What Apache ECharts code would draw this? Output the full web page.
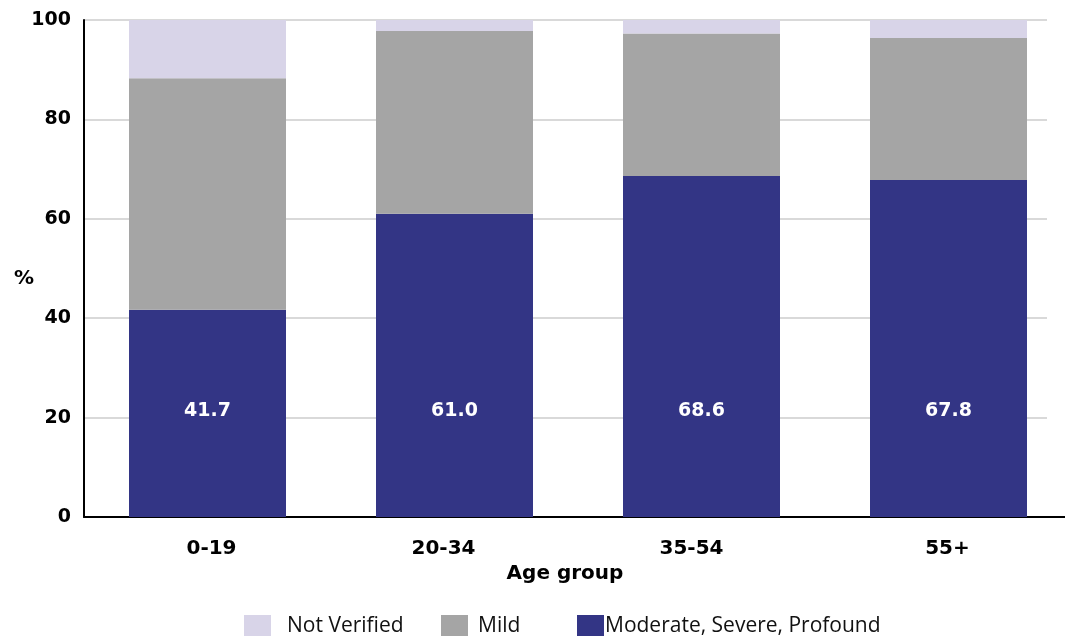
<!DOCTYPE html>
<html>
<head>
<meta charset="utf-8">
<script src="https://cdn.jsdelivr.net/npm/echarts@6/dist/echarts.min.js"></script>
<style>
  html, body { margin: 0; padding: 0; background: #fff; }
  #chart { width: 1065px; height: 636px; }
</style>
</head>
<body>
<div id="chart"></div>
<script>
// Age groups along the x axis
const categories = ['0-19', '20-34', '35-54', '55+'];
// Stacked shares (%) per age group
const severe = [41.7, 61.0, 68.6, 67.8];
const mild = [46.6, 36.8, 28.7, 28.6];
const notVerified = [11.7, 2.2, 2.7, 3.6];
const yTicks = [0, 20, 40, 60, 80, 100];

const BOLD = '"DejaVu Sans", sans-serif';
const REG = '"Open Sans", "DejaVu Sans", sans-serif';
const COLORS = { nv: '#d8d4e8', mild: '#a5a5a5', severe: '#333585' };
// horizontal nudge (px) of each category label from its band centre
const labelNudge = [4, -11, -10, -1];

const chart = echarts.init(document.getElementById('chart'));

function legendAt(left, name, gap) {
  return {
    data: [name],
    left: left,
    top: 610,
    icon: 'rect',
    itemWidth: 27,
    itemHeight: 22,
    itemGap: 0,
    selectedMode: false,
    textStyle: { fontFamily: REG, fontSize: 21, color: '#111', padding: [6, 0, 0, gap] }
  };
}

function nudgePadding(dx) {
  return dx >= 0 ? [0, 0, 0, 2 * dx] : [0, -2 * dx, 0, 0];
}

const yRange = { min: yTicks[0], max: yTicks[yTicks.length - 1], interval: 20 };

chart.setOption({
  animation: false,
  textStyle: { fontFamily: REG },
  grid: [
    // bars, axis lines and labels; the category band runs past the right edge
    { left: 84, width: 988, top: 20, bottom: 119, outerBoundsMode: 'none' },
    // horizontal gridlines, which stop short of the right edge
    { left: 84, right: 18, top: 20, bottom: 119, outerBoundsMode: 'none' }
  ],
  legend: [
    legendAt(239, 'Not Verified', 11),
    legendAt(436, 'Mild', 5),
    legendAt(572, 'Moderate, Severe, Profound', -4)
  ],
  xAxis: [
    {
      type: 'category',
      gridIndex: 0,
      data: categories.map((c, i) => ({ value: c, textStyle: { padding: nudgePadding(labelNudge[i]) } })),
      name: 'Age group',
      nameLocation: 'middle',
      nameGap: 47,
      nameMoveOverlap: false,
      nameTextStyle: { fontFamily: BOLD, fontSize: 20, fontWeight: 'bold', color: '#000', padding: [0, 26, 0, 0] },
      axisLine: { lineStyle: { color: '#000', width: 2 } },
      axisTick: { show: false },
      axisLabel: { fontFamily: BOLD, fontSize: 20, fontWeight: 'bold', color: '#000', margin: 22 }
    },
    { type: 'value', gridIndex: 1, min: 0, max: 1, show: false }
  ],
  yAxis: [
    Object.assign({
      type: 'value',
      gridIndex: 0,
      name: '%',
      nameLocation: 'middle',
      nameRotate: 0,
      nameGap: 50,
      nameMoveOverlap: false,
      nameTextStyle: { fontFamily: BOLD, fontSize: 20, fontWeight: 'bold', color: '#000', verticalAlign: 'top' },
      axisLine: { show: true, lineStyle: { color: '#000', width: 2 } },
      axisTick: { show: false },
      axisLabel: { fontFamily: BOLD, fontSize: 19, fontWeight: 'bold', color: '#000', margin: 13 },
      splitLine: { show: false },
      z: 3
    }, yRange),
    Object.assign({
      type: 'value',
      gridIndex: 1,
      axisLine: { show: false },
      axisTick: { show: false },
      axisLabel: { show: false },
      splitLine: { lineStyle: { color: '#d9d9d9', width: 2 } }
    }, yRange)
  ],
  series: [
    {
      name: 'Moderate, Severe, Profound',
      type: 'bar',
      xAxisIndex: 0,
      yAxisIndex: 0,
      stack: 'total',
      barWidth: 157,
      data: severe,
      itemStyle: { color: COLORS.severe },
      label: {
        show: true,
        position: 'insideBottom',
        distance: 96,
        formatter: p => p.value.toFixed(1),
        color: '#fff',
        fontFamily: BOLD,
        fontSize: 19,
        fontWeight: 'bold'
      }
    },
    {
      name: 'Mild',
      type: 'bar',
      xAxisIndex: 0,
      yAxisIndex: 0,
      stack: 'total',
      data: mild,
      itemStyle: { color: COLORS.mild }
    },
    {
      name: 'Not Verified',
      type: 'bar',
      xAxisIndex: 0,
      yAxisIndex: 0,
      stack: 'total',
      data: notVerified,
      itemStyle: { color: COLORS.nv }
    }
  ]
});
</script>
</body>
</html>
